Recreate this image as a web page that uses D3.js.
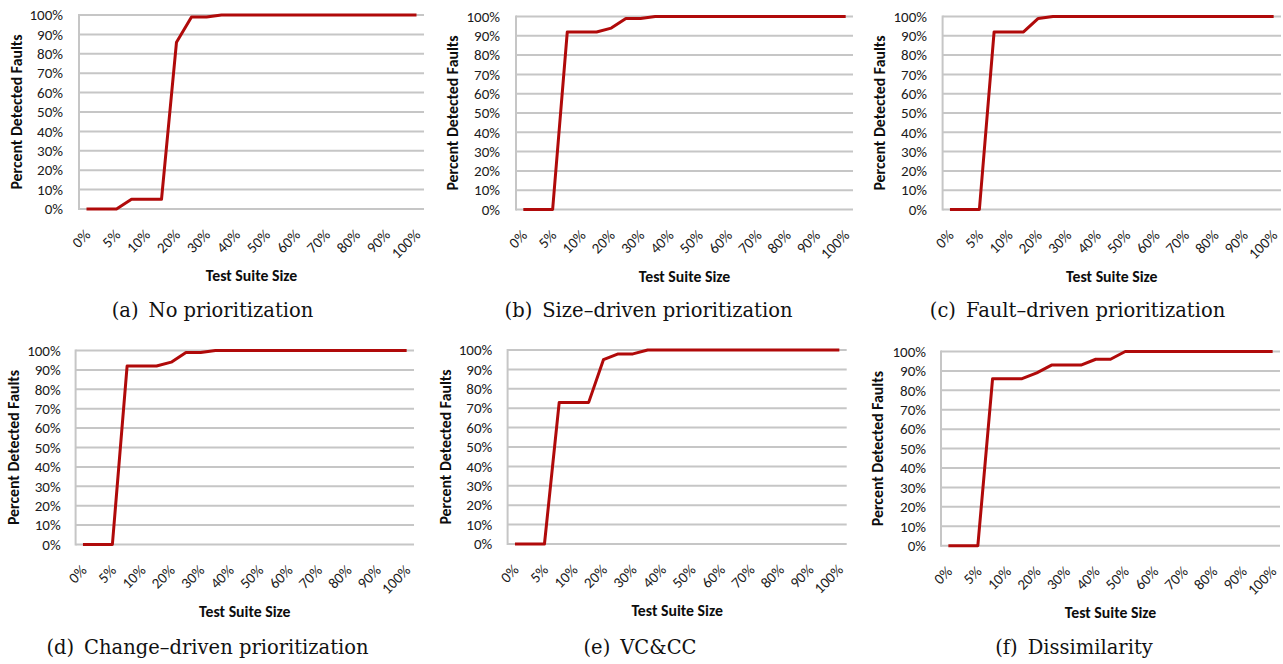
<!DOCTYPE html>
<html>
<head>
<meta charset="utf-8">
<script src="https://cdn.jsdelivr.net/npm/d3@7/dist/d3.min.js"></script>
<style>
  html, body { margin: 0; padding: 0; background: #fff; }
  svg { display: block; }
  .tick-label { font-family: Carlito, Lato, "Open Sans", sans-serif; font-size: 15px; fill: #1a1a1a; }
  .axis-title { font-family: Carlito, Lato, "Open Sans", sans-serif; font-size: 15.8px; font-weight: bold; fill: #0d0d0d; }
  .caption { font-family: "DejaVu Serif", "Liberation Serif", serif; font-size: 19.5px; fill: #111; }
</style>
</head>
<body>
<svg id="chart" width="1283" height="664"></svg>
<script>
// Test suite sizes (category axis); every other category carries a label
const suiteSizes = ["0%", "2.5%", "5%", "7.5%", "10%", "15%", "20%", "25%", "30%", "35%", "40%",
  "45%", "50%", "55%", "60%", "65%", "70%", "75%", "80%", "85%", "90%", "95%", "100%"];
const yTickValues = [0, 10, 20, 30, 40, 50, 60, 70, 80, 90, 100];

// Percent of detected faults per test suite size, one array per prioritization technique
const noPrioritization = [0, 0, 0, 5, 5, 5, 86, 99, 99, 100, 100, 100, 100, 100, 100, 100, 100, 100, 100, 100, 100, 100, 100];
const sizeDriven       = [0, 0, 0, 92, 92, 92, 94, 99, 99, 100, 100, 100, 100, 100, 100, 100, 100, 100, 100, 100, 100, 100, 100];
const faultDriven      = [0, 0, 0, 92, 92, 92, 99, 100, 100, 100, 100, 100, 100, 100, 100, 100, 100, 100, 100, 100, 100, 100, 100];
const changeDriven     = [0, 0, 0, 92, 92, 92, 94, 99, 99, 100, 100, 100, 100, 100, 100, 100, 100, 100, 100, 100, 100, 100, 100];
const vcCc             = [0, 0, 0, 73, 73, 73, 95, 98, 98, 100, 100, 100, 100, 100, 100, 100, 100, 100, 100, 100, 100, 100, 100];
const dissimilarity    = [0, 0, 0, 86, 86, 86, 89, 93, 93, 93, 96, 96, 100, 100, 100, 100, 100, 100, 100, 100, 100, 100, 100];

const captionTags = ["(a)", "(b)", "(c)", "(d)", "(e)", "(f)"];
const captionTexts = ["No prioritization", "Size\u2013driven prioritization", "Fault\u2013driven prioritization",
  "Change\u2013driven prioritization", "VC&CC", "Dissimilarity"];
const seriesList = [noPrioritization, sizeDriven, faultDriven, changeDriven, vcCc, dissimilarity];
const xTitle = "Test Suite Size";
const yTitle = "Percent Detected Faults";

// Panel geometry: plot area, y-title baseline, y-label right edge, caption centre/baseline
const layout = [
  { x0: 79,    x1: 424,  y0: 15,    y1: 209,   yt: 21.5, yl: 63,    cx: 212.5,  cy: 317 },
  { x0: 516,   x1: 853,  y0: 16.5,  y1: 209.5, yt: 458,  yl: 500,   cx: 648.5,  cy: 317 },
  { x0: 942.6, x1: 1281, y0: 16.5,  y1: 209.5, yt: 885,  yl: 927,   cx: 1077.5, cy: 317 },
  { x0: 75.6,  x1: 414,  y0: 350.5, y1: 544.5, yt: 19,   yl: 60.7,  cx: 207.5,  cy: 653.5 },
  { x0: 507.6, x1: 846.7,y0: 350,   y1: 544,   yt: 450.5,yl: 492.3, cx: 640,    cy: 654 },
  { x0: 941,   x1: 1280, y0: 351.5, y1: 545.7, yt: 883,  yl: 926,   cx: 1074,   cy: 654 }
];

const svg = d3.select("#chart");
const gridColor = "#c6c6c6";
const lineColor = "#b00a0a";

seriesList.forEach((values, i) => {
  const L = layout[i];
  const g = svg.append("g");

  const x = d3.scalePoint().domain(suiteSizes).range([L.x0, L.x1]).padding(0.5);
  const y = d3.scaleLinear().domain([0, 100]).range([L.y1, L.y0]);

  // horizontal gridlines
  g.append("g").selectAll("line").data(yTickValues).join("line")
    .attr("x1", L.x0).attr("x2", L.x1)
    .attr("y1", d => y(d)).attr("y2", d => y(d))
    .attr("stroke", gridColor).attr("stroke-width", 2);

  // vertical axis line
  g.append("line")
    .attr("x1", L.x0).attr("x2", L.x0)
    .attr("y1", y(100) - 1).attr("y2", y(0) + 1)
    .attr("stroke", gridColor).attr("stroke-width", 2);

  // y tick labels
  g.append("g").selectAll("text").data(yTickValues).join("text")
    .attr("class", "tick-label")
    .attr("x", L.yl).attr("y", d => y(d)).attr("dy", "0.35em")
    .attr("text-anchor", "end")
    .text(d => d + "%");

  // x tick labels (rotated), every other category
  g.append("g").selectAll("text")
    .data(suiteSizes.filter((d, k) => k % 2 === 0)).join("text")
    .attr("class", "tick-label")
    .attr("text-anchor", "end")
    .attr("dy", "0.35em")
    .attr("transform", d => `translate(${x(d) + 1},${L.y1 + 23}) rotate(-45)`)
    .text(d => d);

  // data line
  const line = d3.line()
    .x((d, k) => x(suiteSizes[k]))
    .y(d => y(d));
  g.append("path")
    .datum(values)
    .attr("fill", "none")
    .attr("stroke", lineColor)
    .attr("stroke-width", 3)
    .attr("stroke-linejoin", "round")
    .attr("d", line);

  // axis titles
  g.append("text").attr("class", "axis-title")
    .attr("x", (L.x0 + L.x1) / 2).attr("y", L.y1 + 72)
    .attr("text-anchor", "middle")
    .text(xTitle);
  g.append("text").attr("class", "axis-title")
    .attr("transform", `translate(${L.yt},${(L.y0 + L.y1) / 2}) rotate(-90)`)
    .attr("text-anchor", "middle")
    .text(yTitle);

  // sub-figure caption
  const cap = g.append("text").attr("class", "caption")
    .attr("x", L.cx).attr("y", L.cy)
    .attr("text-anchor", "middle");
  cap.append("tspan").text(captionTags[i]);
  cap.append("tspan").attr("dx", 10).text(captionTexts[i]);
});
</script>
</body>
</html>
